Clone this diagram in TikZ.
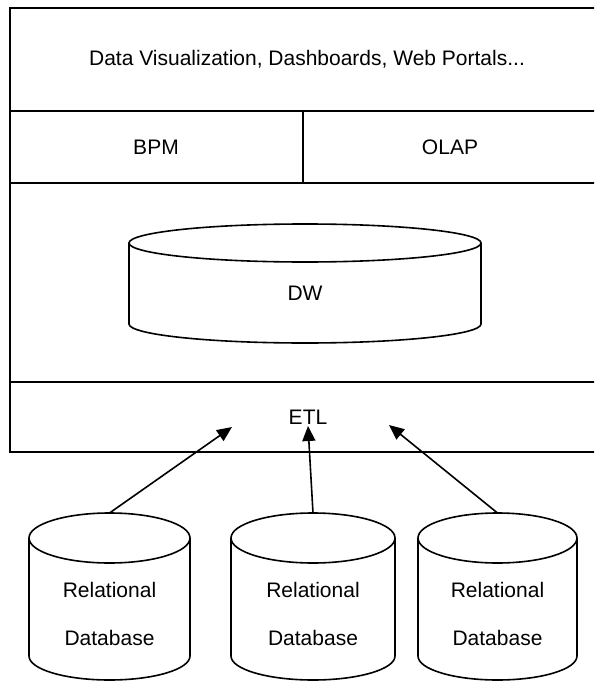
\documentclass[tikz,border=0pt]{standalone}
\usepackage{fontspec}
\setmainfont{Liberation Sans}
\usetikzlibrary{arrows.meta}
\begin{document}
\begin{tikzpicture}[x=1pt,y=1pt,
  frame/.style={line width=2pt},
  can/.style={line width=1.6pt},
  lbl/.style={font=\fontsize{21}{25}\selectfont, inner sep=0pt},
  dblbl/.style={font=\fontsize{21}{48}\selectfont, align=center, inner sep=0pt},
  feed/.style={line width=1.6pt, -{Triangle[length=15pt,width=13pt]}}]
\useasboundingbox (0,0) rectangle (594,-682);
\clip (0,0) rectangle (594,-682);
\fill[white] (0,0) rectangle (594,-682);

% layered architecture frame (open to the right)
\draw[frame] (606,-8) -- (10,-8) -- (10,-452) -- (606,-452);
\draw[frame] (10,-111) -- (606,-111);
\draw[frame] (10,-183) -- (606,-183);
\draw[frame] (10,-382) -- (606,-382);
\draw[frame] (303,-111) -- (303,-183);

% layer labels
\node[lbl] (viz)  at (307,-59)  {Data Visualization, Dashboards, Web Portals...};
\node[lbl] (bpm)  at (156,-147) {BPM};
\node[lbl] (olap) at (450,-147) {OLAP};
\node[lbl] (etl)  at (308,-417) {ETL};

% data warehouse cylinder
\draw[can] (305,-243) ellipse [x radius=176, y radius=19];
\draw[can] (129,-243) -- (129,-324)
  arc[start angle=180, end angle=360, x radius=176, y radius=19] -- (481,-243);
\node[lbl] (dw) at (305,-293) {DW};

% source database cylinders
\foreach \n/\cx/\rx in {1/109.5/80.5, 2/313/82, 3/497.5/79.5}{
  \draw[can] (\cx,-538) ellipse [x radius=\rx, y radius=25];
  \draw[can] (\cx-\rx,-538) -- (\cx-\rx,-656)
    arc[start angle=180, end angle=360, x radius=\rx, y radius=24] -- (\cx+\rx,-538);
  \coordinate (db\n top) at (\cx,-513);
  \node[dblbl] (db\n) at (\cx,-614) {Relational\\Database};
}

% load paths into the ETL layer
\coordinate (in1) at (232,-427);
\coordinate (in2) at (308,-426);
\coordinate (in3) at (389,-425);
\draw[feed] (db1top) -- (in1);
\draw[feed] (db2top) -- (in2);
\draw[feed] (db3top) -- (in3);
\end{tikzpicture}
\end{document}
